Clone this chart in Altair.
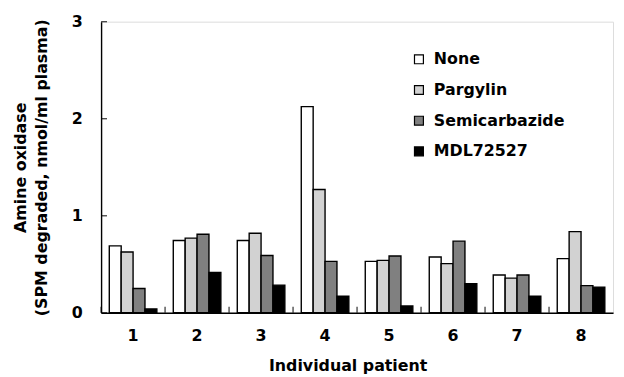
import altair as alt
import pandas as pd

patients = ["1", "2", "3", "4", "5", "6", "7", "8"]
treatments = ["None", "Pargylin", "Semicarbazide", "MDL72527"]
none_vals = [0.69, 0.745, 0.745, 2.125, 0.53, 0.575, 0.39, 0.558]
pargylin_vals = [0.626, 0.77, 0.82, 1.27, 0.54, 0.507, 0.357, 0.837]
semicarbazide_vals = [0.25, 0.81, 0.59, 0.53, 0.585, 0.738, 0.39, 0.28]
mdl_vals = [0.04, 0.415, 0.285, 0.17, 0.07, 0.30, 0.17, 0.265]
y_ticks = [0, 1, 2, 3]
colors = ["#ffffff", "#d2d2d2", "#808080", "#000000"]

series = [none_vals, pargylin_vals, semicarbazide_vals, mdl_vals]
rows = []
for t, vals in zip(treatments, series):
    for p, v in zip(patients, vals):
        rows.append({"patient": p, "treatment": t, "value": v})
df = pd.DataFrame(rows)
ytick_df = pd.DataFrame({"y": y_ticks})
xtick_df = pd.DataFrame({"patient": patients})

FONT = "DejaVu Sans"
W, H = 517, 294

x_scale = alt.Scale(domain=patients, paddingInner=0, paddingOuter=0)
y_scale = alt.Scale(domain=[0, 3], nice=False)

bars = alt.Chart(df).mark_bar(stroke="black", strokeWidth=1.4).encode(
    x=alt.X("patient:N", scale=x_scale, sort=patients,
            axis=alt.Axis(title="Individual patient", labelAngle=0, ticks=False, tickSize=0,
                          labelPadding=15, labelFontSize=16, labelFont=FONT, labelFontWeight="bold",
                          labelColor="black", titleFontSize=16, titleFont=FONT, titleFontWeight="bold",
                          titleColor="black", titleX=249, titleY=45, titleBaseline="top",
                          domainColor="black", domainWidth=1.4)),
    xOffset=alt.XOffset("treatment:N", sort=treatments,
                        scale=alt.Scale(domain=treatments, paddingInner=0, paddingOuter=0.69)),
    y=alt.Y("value:Q", scale=y_scale,
            axis=alt.Axis(title=["Amine oxidase", "(SPM degraded, nmol/ml plasma)"], values=y_ticks,
                          format="d", ticks=False, tickSize=0, grid=False, labelPadding=19,
                          labelFontSize=16, labelFont=FONT, labelFontWeight="bold", labelColor="black",
                          titleFontSize=16, titleFont=FONT, titleFontWeight="bold", titleColor="black",
                          titleLineHeight=21, titlePadding=22, domainColor="black", domainWidth=1.4)),
    fill=alt.Fill("treatment:N", sort=treatments,
                  scale=alt.Scale(domain=treatments, range=colors),
                  legend=alt.Legend(title=None, orient="none", legendX=313, legendY=30,
                                    symbolType="square", symbolSize=81, symbolStrokeColor="black",
                                    symbolStrokeWidth=1.2, labelFontSize=16, labelFont=FONT,
                                    labelFontWeight="bold", labelColor="black", labelOffset=7,
                                    rowPadding=15, padding=0)),
)

ytick_marks = alt.Chart(ytick_df).mark_tick(color="black", thickness=1.4, size=6, orient="horizontal").encode(
    y=alt.Y("y:Q", scale=y_scale),
    x=alt.value(3),
)

xtick_marks = alt.Chart(xtick_df).mark_tick(color="black", thickness=1.4, size=6, orient="vertical").encode(
    x=alt.X("patient:N", scale=x_scale, sort=patients, bandPosition=0),
    y=alt.value(H - 3),
)

chart = alt.layer(bars, ytick_marks, xtick_marks).properties(
    width=W, height=H,
    autosize=alt.AutoSizeParams(type="none"),
    padding={"left": 94, "top": 12, "right": 3, "bottom": 60},
).configure_view(stroke="black", strokeWidth=1.4).configure(background="white")

chart.save("out.html", embed_options={"renderer": "svg", "actions": False})
